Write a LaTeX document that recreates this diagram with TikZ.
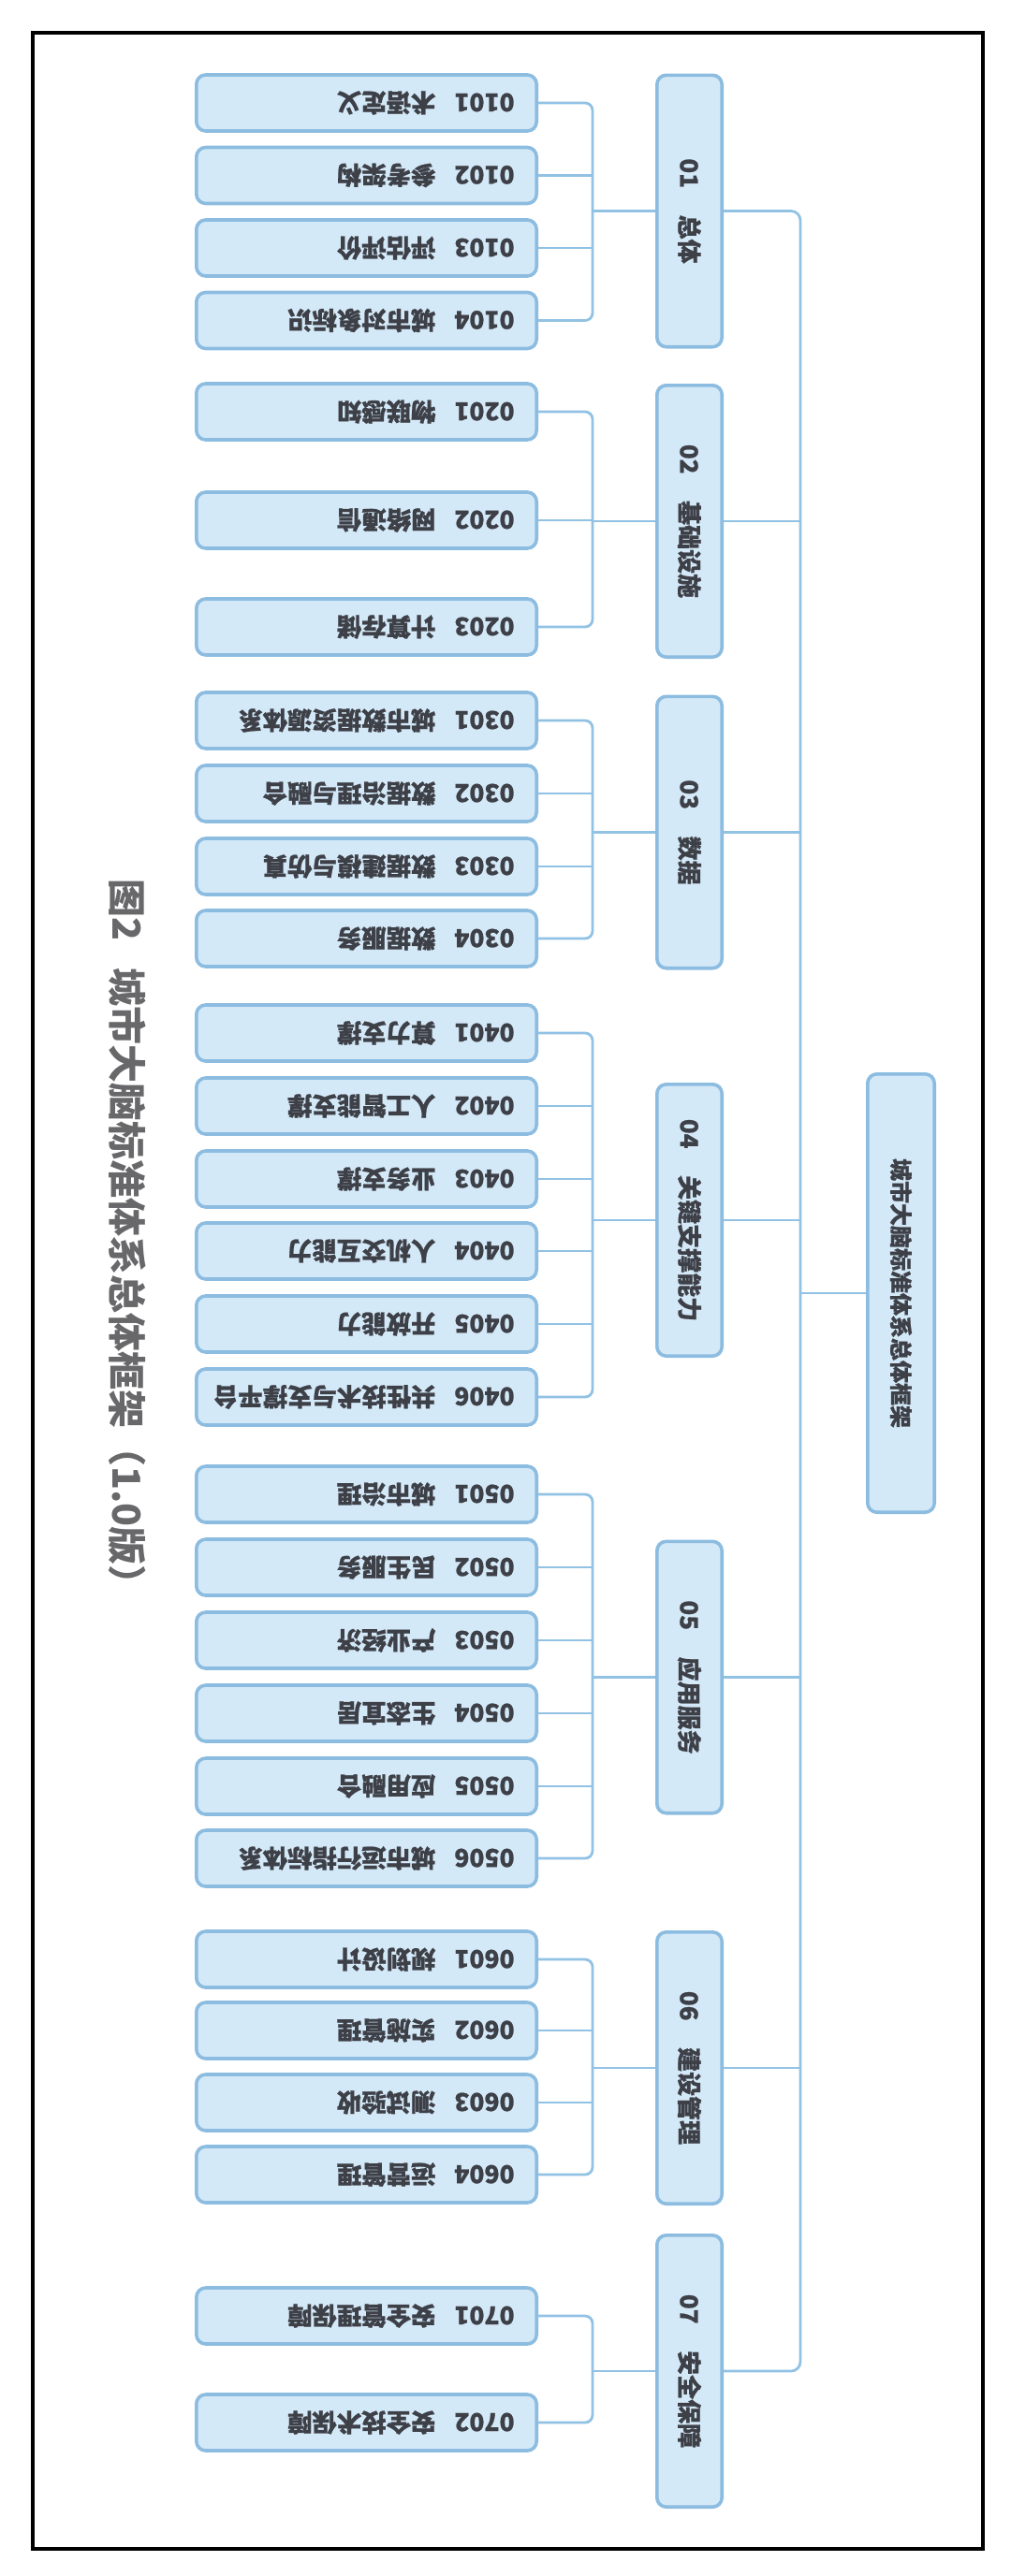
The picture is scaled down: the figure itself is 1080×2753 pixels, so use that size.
\documentclass[tikz,border=0pt]{standalone}
\usepackage{fontspec}
\setmainfont{Noto Sans CJK SC}
\definecolor{boxfill}{RGB}{212,233,248}
\definecolor{boxline}{RGB}{140,188,224}
\definecolor{connline}{RGB}{145,194,228}
\definecolor{txt}{RGB}{62,64,72}
\definecolor{titlegray}{RGB}{104,104,106}
\begin{document}
\begin{tikzpicture}[x=0.5pt,y=-0.5pt,
  box/.style={draw=boxline, fill=boxfill, line width=1.8pt, rounded corners=5pt, inner sep=0pt},
  leaf/.style={box, minimum width=181.7pt, minimum height=30pt},
  cat/.style={box, minimum width=34.7pt, minimum height=145.2pt},
  rootbox/.style={box, minimum width=35.7pt, minimum height=234.2pt},
  leaftext/.style={rotate=180, anchor=west, inner sep=0pt, text=txt, font=\bfseries\fontsize{13.2pt}{15pt}\selectfont\addfontfeature{FakeBold=0.8}},
  cattext/.style={rotate=-90, inner sep=0pt, text=txt, font=\bfseries\fontsize{13pt}{15pt}\selectfont\addfontfeature{FakeBold=0.8}},
  roottext/.style={rotate=-90, inner sep=0pt, text=txt, font=\bfseries\fontsize{12pt}{14pt}\selectfont\addfontfeature{FakeBold=0.8}},
  titletext/.style={rotate=-90, anchor=west, inner sep=0pt, text=titlegray, font=\bfseries\fontsize{20.5pt}{24pt}\selectfont},
  conn/.style={draw=connline, line width=1.4pt, rounded corners=4pt},
  mainconn/.style={draw=connline, line width=1.4pt, rounded corners=5pt}]
\useasboundingbox (0,0) rectangle (1080,2753);
\fill[white] (0,0) rectangle (1080,2753);
\draw[line width=1.6pt, black] (35,35) rectangle (1050,2724);

% title
\node[titletext] (title) at (136,939) {图2\hspace{0.7em}城市大脑标准体系总体框架（1.0版）};

% helper x positions
\coordinate (sx) at (633,0);
\coordinate (mx) at (855,0);

% leaves
\foreach \n/\yy/\t in {
  0101/110/术语定义, 0102/187.5/参考架构, 0103/265/评估评价, 0104/342.5/城市对象标识,
  0201/440/物联感知, 0202/556/网络通信, 0203/670/计算存储,
  0301/770/城市数据资源体系, 0302/848/数据治理与融合, 0303/926/数据建模与仿真, 0304/1003/数据服务,
  0401/1104/算力支撑, 0402/1182/人工智能支撑, 0403/1260/业务支撑, 0404/1337/人机交互能力, 0405/1415/开放能力, 0406/1493/共性技术与支撑平台,
  0501/1597/城市治理, 0502/1675/民生服务, 0503/1753/产业经济, 0504/1831/生态宜居, 0505/1909/应用融合, 0506/1986/城市运行指标体系,
  0601/2094/规划设计, 0602/2170/实施管理, 0603/2247/测试验收, 0604/2324/运营管理,
  0701/2475/安全管理保障, 0702/2589/安全技术保障}
{
  \node[leaf] (l\n) at (391.5,\yy) {};
  \node[leaftext] (t\n) at ([xshift=-12.5pt]l\n.east) {\n\hspace{0.75em}\t};
}

% categories
\foreach \c/\yy/\t in {01/225.5/总体, 02/557/基础设施, 03/889.5/数据, 04/1304/关键支撑能力, 05/1792.5/应用服务, 06/2210/建设管理, 07/2534/安全保障}
{
  \node[cat] (c\c) at (736.5,\yy) {};
  \node[cattext] (ct\c) at (c\c) {\c\hspace{1.1em}\t};
}

% root
\node[rootbox] (root) at (962.5,1382) {};
\node[roottext] (rt) at (root) {城市大脑标准体系总体框架};

% leaf-to-category connectors
\draw[conn] (l0101.east) -| (c01.west -| sx) |- (l0104.east);
\draw[conn] (l0102.east) -- (l0102.east -| sx);
\draw[conn] (l0103.east) -- (l0103.east -| sx);
\draw[conn] (c01.west -| sx) -- (c01.west);

\draw[conn] (l0201.east) -| (c02.west -| sx) |- (l0203.east);
\draw[conn] (l0202.east) -- (l0202.east -| sx);
\draw[conn] (c02.west -| sx) -- (c02.west);

\draw[conn] (l0301.east) -| (c03.west -| sx) |- (l0304.east);
\draw[conn] (l0302.east) -- (l0302.east -| sx);
\draw[conn] (l0303.east) -- (l0303.east -| sx);
\draw[conn] (c03.west -| sx) -- (c03.west);

\draw[conn] (l0401.east) -| (c04.west -| sx) |- (l0406.east);
\foreach \n in {0402,0403,0404,0405} { \draw[conn] (l\n.east) -- (l\n.east -| sx); }
\draw[conn] (c04.west -| sx) -- (c04.west);

\draw[conn] (l0501.east) -| (c05.west -| sx) |- (l0506.east);
\foreach \n in {0502,0503,0504,0505} { \draw[conn] (l\n.east) -- (l\n.east -| sx); }
\draw[conn] (c05.west -| sx) -- (c05.west);

\draw[conn] (l0601.east) -| (c06.west -| sx) |- (l0604.east);
\draw[conn] (l0602.east) -- (l0602.east -| sx);
\draw[conn] (l0603.east) -- (l0603.east -| sx);
\draw[conn] (c06.west -| sx) -- (c06.west);

\draw[conn] (l0701.east) -| (c07.west -| sx) |- (l0702.east);
\draw[conn] (c07.west -| sx) -- (c07.west);

% category-to-root connectors
\draw[mainconn] (c01.east) -| (root.west -| mx) |- (c07.east);
\foreach \c in {02,03,04,05,06} { \draw[mainconn] (c\c.east) -- (c\c.east -| mx); }
\draw[mainconn] (root.west -| mx) -- (root.west);
\end{tikzpicture}
\end{document}
